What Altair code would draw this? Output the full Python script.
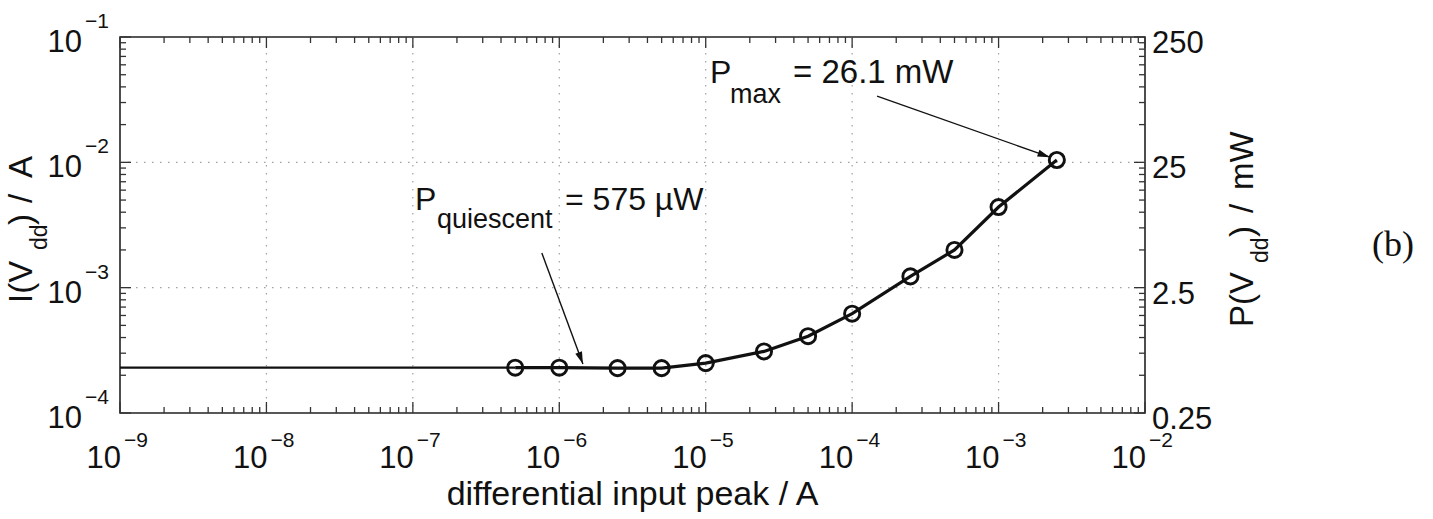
import math
import altair as alt
import pandas as pd

# ---------------- data ----------------
x_peak = [5e-7, 1e-6, 2.5e-6, 5e-6, 1e-5, 2.5e-5, 5e-5, 1e-4, 2.5e-4, 5e-4, 1e-3, 2.5e-3]
i_vdd = [2.30e-4, 2.30e-4, 2.28e-4, 2.28e-4, 2.50e-4, 3.10e-4, 4.10e-4, 6.20e-4,
         1.23e-3, 2.00e-3, 4.40e-3, 1.044e-2]
lead_x = [1e-9, 5e-7]
lead_i = [2.30e-4, 2.30e-4]

x_decades = [1e-9, 1e-8, 1e-7, 1e-6, 1e-5, 1e-4, 1e-3, 1e-2]
x_exps = ["\u22129", "\u22128", "\u22127", "\u22126", "\u22125", "\u22124", "\u22123", "\u22122"]
y_decades = [1e-4, 1e-3, 1e-2, 1e-1]
y_exps = ["\u22124", "\u22123", "\u22122", "\u22121"]
p_ticks_mw = [0.25, 2.5, 25, 250]
p_labels = ["0.25", "2.5", "25", "250"]
VDD = 2.5  # V, so P[mW] = I[A] * 2500

# annotation arrows (tail -> tip), data coordinates
arrow_x0 = [7.6e-7, 1.48e-4]
arrow_y0 = [1.89e-3, 3.38e-2]
arrow_x1 = [1.45e-6, 2.24e-3]
arrow_y1 = [2.46e-4, 1.10e-2]

# ---------------- layout ----------------
W, H = 1025, 376
FONT = "Liberation Sans"
INK = "#111111"
xs = alt.Scale(type="log", domain=[1e-9, 1e-2])
ys = alt.Scale(type="log", domain=[1e-4, 1e-1])


def X(f):
    return alt.X(f, type="quantitative", scale=xs, axis=None)


def Y(f):
    return alt.Y(f, type="quantitative", scale=ys, axis=None)


def px(v):
    return W * (math.log10(v) + 9) / 7


def py(v):
    return H * (1 - (math.log10(v) + 4) / 3)


x_minor = [m * 10.0 ** e for e in range(-9, -2) for m in range(2, 10)]
y_minor = [m * 10.0 ** e for e in range(-4, -1) for m in range(2, 10)]

df_main = pd.DataFrame({"x": x_peak, "i": i_vdd})
df_lead = pd.DataFrame({"x": lead_x, "i": lead_i})
df_xdec = pd.DataFrame({"v": x_decades, "e": x_exps})
df_ydec = pd.DataFrame({"v": y_decades, "e": y_exps})
df_xmin = pd.DataFrame({"v": x_minor})
df_ymin = pd.DataFrame({"v": y_minor})
df_p = pd.DataFrame({"v": [p / (VDD * 1000) for p in p_ticks_mw], "t": p_labels})
angles = []
for a, b, c, d in zip(arrow_x0, arrow_y0, arrow_x1, arrow_y1):
    angles.append(math.degrees(math.atan2(px(c) - px(a), -(py(d) - py(b)))) % 360)
df_arr = pd.DataFrame({"x0": arrow_x0, "y0": arrow_y0, "x1": arrow_x1, "y1": arrow_y1, "ang": angles})

layers = []

# grid (dotted, decades only)
grid_style = dict(color="#a0a0a0", strokeDash=[1.5, 6.5], strokeWidth=1.2)
layers.append(alt.Chart(df_xdec.iloc[1:-1]).mark_rule(**grid_style).encode(
    x=X("v"), y=alt.value(0), y2=alt.value(H)))
layers.append(alt.Chart(df_ydec.iloc[1:-1]).mark_rule(**grid_style).encode(
    y=Y("v"), x=alt.value(0), x2=alt.value(W)))

# inward ticks on all four sides
tk = dict(color="#333333", strokeWidth=1.3)
for df, L in ((df_xmin, 6), (df_xdec, 11)):
    layers.append(alt.Chart(df).mark_rule(**tk).encode(x=X("v"), y=alt.value(H - L), y2=alt.value(H)))
    layers.append(alt.Chart(df).mark_rule(**tk).encode(x=X("v"), y=alt.value(0), y2=alt.value(L)))
for df, L in ((df_ymin, 6), (df_ydec, 11)):
    layers.append(alt.Chart(df).mark_rule(**tk).encode(y=Y("v"), x=alt.value(0), x2=alt.value(L)))
    layers.append(alt.Chart(df).mark_rule(**tk).encode(y=Y("v"), x=alt.value(W - L), x2=alt.value(W)))

# data
layers.append(alt.Chart(df_lead).mark_line(color=INK, strokeWidth=2.2).encode(x=X("x"), y=Y("i")))
layers.append(alt.Chart(df_main).mark_line(color=INK, strokeWidth=3.2).encode(x=X("x"), y=Y("i")))
layers.append(alt.Chart(df_main).mark_point(shape="circle", filled=False, size=230, strokeWidth=2.9,
                                            color=INK, opacity=1).encode(x=X("x"), y=Y("i")))

# arrows
layers.append(alt.Chart(df_arr).mark_rule(color=INK, strokeWidth=1.4).encode(
    x=X("x0"), y=Y("y0"), x2=alt.X2("x1"), y2=alt.Y2("y1")))
layers.append(alt.Chart(df_arr).mark_point(shape="M0,0L-0.75,2.6L0.75,2.6Z", filled=True, size=90,
                                           color=INK, opacity=1, strokeWidth=0).encode(
    x=X("x1"), y=Y("y1"), angle=alt.Angle("ang:Q", scale=None)))


def txt(text, x, y, size, align="left", baseline="alphabetic", angle=0, font=FONT):
    kw = dict(text=text, align=align, baseline=baseline, fontSize=size, font=font, color=INK)
    if angle:
        kw["angle"] = angle
    return alt.Chart(df_lead.iloc[:1]).mark_text(**kw).encode(x=alt.value(x), y=alt.value(y))


# annotations
layers += [
    txt("P", 295, 173, 32),
    txt("quiescent", 317, 191, 27),
    txt("= 575 \u00b5W", 445, 173, 32),
    txt("P", 590, 46, 32),
    txt("max", 610, 66, 27),
    txt("= 26.1 mW", 673, 46, 33),
]

# tick labels
layers.append(alt.Chart(df_xdec).mark_text(align="right", baseline="alphabetic", fontSize=31, font=FONT,
                                           color=INK, dx=1).encode(x=X("v"), y=alt.value(H + 55),
                                                                     text=alt.value("10")))
layers.append(alt.Chart(df_xdec).mark_text(align="left", baseline="alphabetic", fontSize=21, font=FONT,
                                           color=INK, dx=4).encode(x=X("v"), y=alt.value(H + 34), text="e:N"))
layers.append(alt.Chart(df_ydec).mark_text(align="right", baseline="alphabetic", fontSize=31, font=FONT,
                                           color=INK, dy=15).encode(y=Y("v"), x=alt.value(-38),
                                                                     text=alt.value("10")))
layers.append(alt.Chart(df_ydec).mark_text(align="left", baseline="alphabetic", fontSize=21, font=FONT,
                                           color=INK, dy=-9).encode(y=Y("v"), x=alt.value(-35), text="e:N"))
layers.append(alt.Chart(df_p).mark_text(align="left", baseline="alphabetic", fontSize=31, font=FONT,
                                        color=INK, dy=16).encode(y=Y("v"), x=alt.value(W + 7), text="t:N"))

# axis titles
layers.append(txt("differential input peak / A", W / 2, H + 92, 34, align="center"))
layers += [
    txt("I(V", -88, 266, 33, angle=270),
    txt("dd", -73, 213, 23, angle=270),
    txt(")", -88, 188, 33, angle=270),
    txt("/", -88, 166, 33, angle=270),
    txt("A", -88, 141, 33, angle=270),
]
layers += [
    txt("P(V", W + 108, 290, 33, angle=270),
    txt("dd", W + 123, 226, 23, angle=270),
    txt(")", W + 108, 200, 33, angle=270),
    txt("/", W + 108, 176, 33, angle=270),
    txt("mW", W + 108, 153, 33, angle=270),
]
layers.append(txt("(b)", 1273, 208, 36, align="center", baseline="middle", font="Liberation Serif"))

chart = alt.layer(*layers).properties(
    width=W, height=H, background="white", autosize="none",
    padding={"left": 120, "top": 37, "right": 288, "bottom": 106},
).configure_view(stroke="#222222", strokeWidth=1.6)

chart.save("out.html", embed_options={"renderer": "svg", "actions": False})
